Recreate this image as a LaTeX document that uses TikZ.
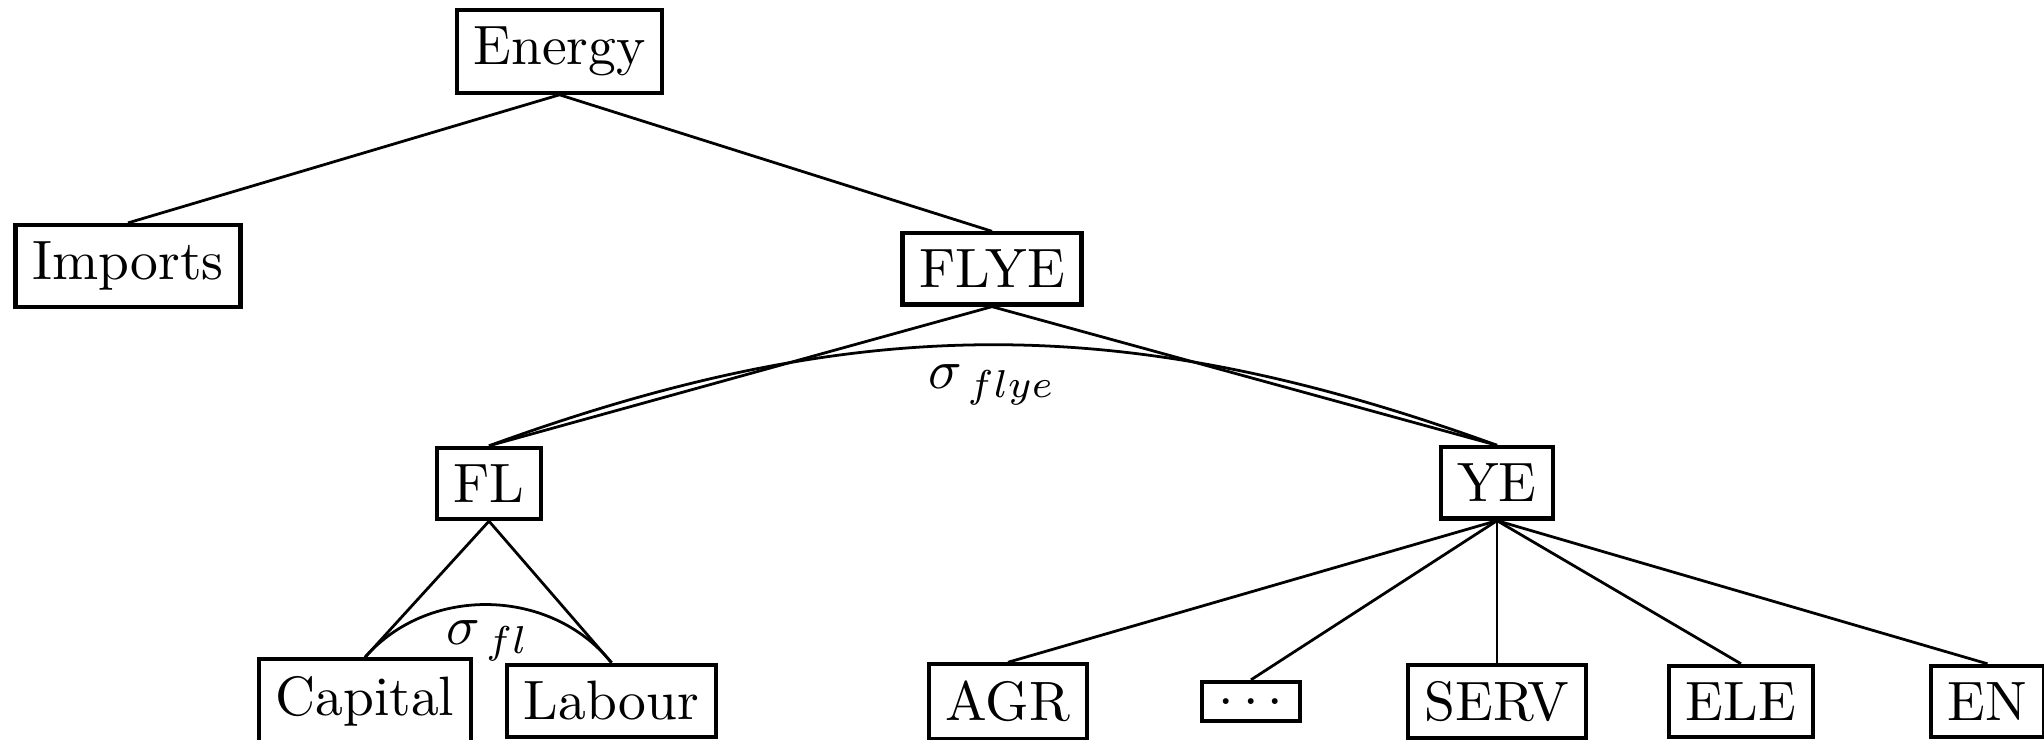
\documentclass[tikz,border=0pt]{standalone}
\begin{document}
\begin{tikzpicture}[x=0.1802pt,y=0.1802pt,
  cell/.style={draw,line width=0.75pt,inner sep=3pt},
  link/.style={line width=0.5pt},
  lbl/.style={inner sep=0pt}]
\useasboundingbox (0,0) rectangle (2044,-740);

% nodes of the nesting tree
\node[cell] (energy)  at (559.5,-51.5) {Energy};
\node[cell] (imports) at (128,-266)    {Imports};
\node[cell] (flye)    at (992,-269)    {FLYE};
\node[cell] (fl)      at (489,-483.5)  {FL};
\node[cell] (ye)      at (1497,-483)   {YE};
\node[cell] (capital) at (365,-701)    {Capital};
\node[cell] (labour)  at (611.5,-701)  {Labour};
\node[cell] (agr)     at (1008,-701.5) {AGR};
\node[cell] (dots)    at (1251,-701.5) {.\kern1.67pt.\kern1.67pt.};
\node[cell] (serv)    at (1497,-701.5) {SERV};
\node[cell] (ele)     at (1741,-701.5) {ELE};
\node[cell] (en)      at (1987.5,-701.5) {EN};

% branches
\draw[link] (energy.south) -- (imports.north);
\draw[link] (energy.south) -- (flye.north);
\draw[link] (flye.south) -- (fl.north);
\draw[link] (flye.south) -- (ye.north);
\draw[link] (fl.south) -- (capital.north);
\draw[link] (fl.south) -- (labour.north);
\foreach \c in {agr,dots,serv,ele,en}
  \draw[link] (ye.south) -- (\c.north);

% substitution elasticities
\draw[link] (fl.north) to[bend left=20] (ye.north);
\draw[link] (capital.north) to[bend left=50] (labour.north);
\node[lbl] (sflye) at (992,-385) {$\sigma_{\,flye}$};
\node[lbl] (sfl)   at (488,-641) {$\sigma_{\,fl}$};
\end{tikzpicture}
\end{document}
